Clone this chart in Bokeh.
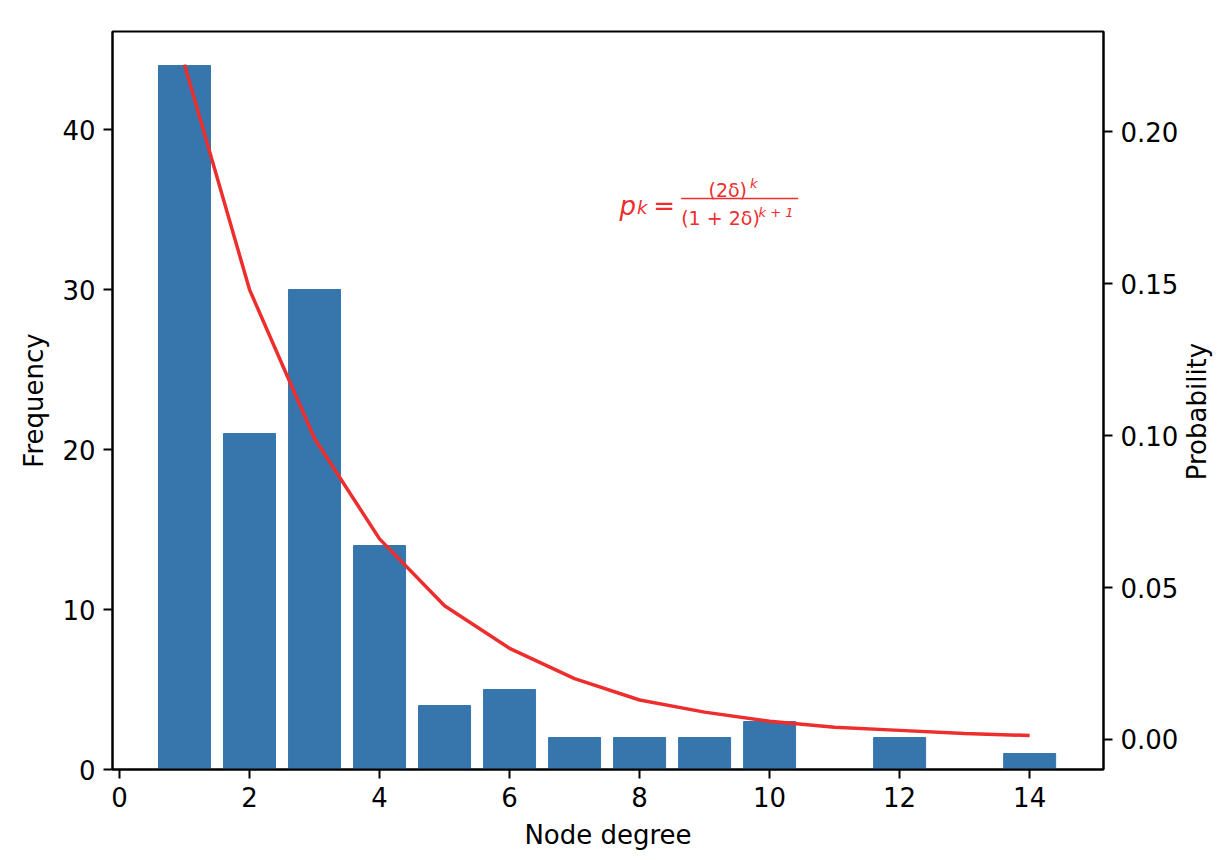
import math
from bokeh.plotting import figure
from bokeh.models import Range1d, LinearAxis, FixedTicker, Label, Arrow, NumeralTickFormatter
from bokeh.embed import file_html
from bokeh.resources import INLINE

# ---- data ----
degrees = [1, 2, 3, 4, 5, 6, 7, 8, 9, 10, 12, 14]
frequency = [44, 21, 30, 14, 4, 5, 2, 2, 2, 3, 2, 1]

k_values = [1, 2, 3, 4, 5, 6, 7, 8, 9, 10, 11, 12, 13, 14]
probability = [0.222, 0.148, 0.099, 0.066, 0.044, 0.030, 0.020, 0.013,
               0.009, 0.006, 0.004, 0.003, 0.002, 0.0013]

x_ticks = [0, 2, 4, 6, 8, 10, 12, 14]
freq_ticks = [0, 10, 20, 30, 40]
prob_ticks = [0.0, 0.05, 0.10, 0.15, 0.20]

BAR = "#3776ad"
RED = "#ee2d2d"
FONT = "DejaVu Sans"
FS = "26px"

p = figure(width=1230, height=854, output_backend="svg", toolbar_location=None,
           x_range=Range1d(-0.1075, 15.136), y_range=Range1d(0, 46.125),
           min_border_left=112, min_border_right=125, min_border_top=31,
           min_border_bottom=85)
p.extra_y_ranges = {"prob": Range1d(-0.00987, 0.2329)}

p.vbar(x=degrees, top=frequency, bottom=0, width=0.8, fill_color=BAR, line_color=BAR)
p.line(k_values, probability, y_range_name="prob", line_color=RED, line_width=3.5)

# right axis title reads bottom-to-top; anchored at the axis start and
# padded with no-break spaces so that it sits centred along the axis
right_axis = LinearAxis(y_range_name="prob", axis_label="\u00a0" * 35 + "Probability")
p.add_layout(right_axis, "right")

p.xaxis.ticker = FixedTicker(ticks=x_ticks)
p.yaxis[0].ticker = FixedTicker(ticks=freq_ticks)
right_axis.ticker = FixedTicker(ticks=prob_ticks)
right_axis.formatter = NumeralTickFormatter(format="0.00")
p.xaxis.axis_label = "Node degree"
p.yaxis[0].axis_label = "Frequency"

for ax in p.xaxis + p.yaxis:
    ax.axis_line_color = "black"
    ax.axis_line_width = 2
    ax.major_tick_line_color = "black"
    ax.major_tick_line_width = 2
    ax.major_tick_out = 9
    ax.major_tick_in = 0
    ax.minor_tick_line_color = None
    ax.major_label_text_font = FONT
    ax.major_label_text_font_size = FS
    ax.major_label_text_color = "black"
    ax.major_label_standoff = 8
    ax.axis_label_text_font = FONT
    ax.axis_label_text_font_size = FS
    ax.axis_label_text_font_style = "normal"
    ax.axis_label_text_color = "black"
    ax.axis_label_standoff = 10

right_axis.axis_label_standoff = 16
right_axis.axis_label_text_line_height = 1.0
try:
    right_axis.axis_label_orientation = math.pi / 2
    right_axis.axis_label_align = "start"
except Exception:
    pass

p.xgrid.visible = False
p.ygrid.visible = False
p.outline_line_color = "black"
p.outline_line_width = 2
p.outline_line_alpha = 1
p.background_fill_color = "white"
p.border_fill_color = "white"

# ---- formula annotation: p_k = (2δ)^k / (1+2δ)^(k+1) ----
def lab(text, x, y, size, style="normal"):
    p.add_layout(Label(x=x, y=y, text=text, text_color=RED, text_font=FONT,
                       text_font_size=size, text_font_style=style,
                       text_baseline="alphabetic", text_align="left"))

lab("p", 7.69, 35.19, "26px", "italic")
lab("k", 7.96, 35.13, "18px", "italic")
lab("=", 8.21, 35.19, "26px")
lab("(2δ)", 9.06, 36.19, "19px")
lab("k", 9.70, 36.62, "13px", "italic")
lab("(1 + 2δ)", 8.64, 34.44, "19px")
lab("k + 1", 9.83, 34.81, "13px", "italic")
p.add_layout(Arrow(end=None, start=None, x_start=8.64, y_start=35.69,
                   x_end=10.44, y_end=35.69, line_color=RED, line_width=1.5))

open("out.html", "w").write(file_html(p, INLINE))
